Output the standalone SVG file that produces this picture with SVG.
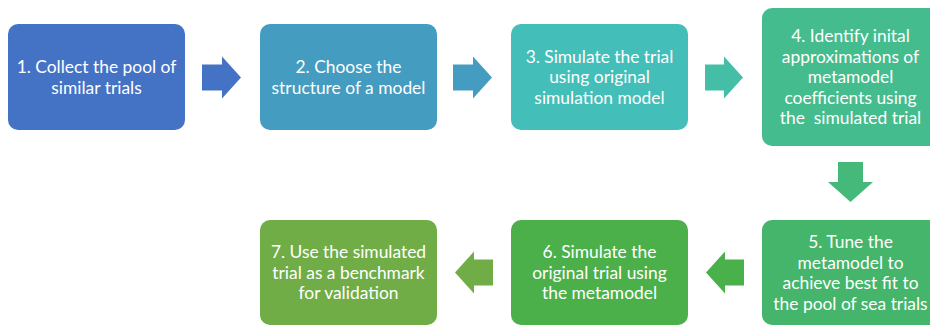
<svg xmlns="http://www.w3.org/2000/svg" width="930" height="326" viewBox="0 0 930 326">
<style>
.box{stroke:none}
.lbl{font-family:Lato,"Liberation Sans",Arial,sans-serif;font-size:17.4px;fill:#ffffff;text-anchor:middle;white-space:pre}
</style>
<rect width="930" height="326" fill="#ffffff"/>
<g id="connectors">
<polygon id="a1" points="202,64.5 222,64.5 222,56.5 241,77.5 222,98.5 222,90.5 202,90.5" fill="#4472C4"/>
<polygon id="a2" points="453,64.5 473,64.5 473,56.5 492,77.5 473,98.5 473,90.5 453,90.5" fill="#449DC1"/>
<polygon id="a3" points="705,64.5 724,64.5 724,56.5 743,77.5 724,98.5 724,90.5 705,90.5" fill="#45BEA8"/>
<polygon id="a4" points="838,162 863,162 863,182 873,182 850.5,202 828,182 838,182" fill="#45B97A"/>
<polygon id="a5" points="744,259.5 725,259.5 725,251.5 706,272.5 725,293.5 725,285.5 744,285.5" fill="#4AB04A"/>
<polygon id="a6" points="493,259.5 474,259.5 474,251.5 455,272.5 474,293.5 474,285.5 493,285.5" fill="#70AD47"/>
</g>
<g id="n1">
<rect class="box" x="8" y="24" width="177" height="106" rx="10" fill="#4472C4"/>
<text class="lbl" x="96.5" y="73">1. Collect the pool of</text>
<text class="lbl" x="96.5" y="93.5">similar trials</text>
</g>
<g id="n2">
<rect class="box" x="260" y="24" width="177" height="106" rx="10" fill="#449CC1"/>
<text class="lbl" x="348.5" y="73">2. Choose the</text>
<text class="lbl" x="348.5" y="93.5">structure of a model</text>
</g>
<g id="n3">
<rect class="box" x="511" y="24" width="177" height="106" rx="10" fill="#44BEB8"/>
<text class="lbl" x="599.5" y="62.5">3. Simulate the trial</text>
<text class="lbl" x="599.5" y="83">using original</text>
<text class="lbl" x="599.5" y="103.5">simulation model</text>
</g>
<g id="n4">
<rect class="box" x="762" y="8" width="177" height="138" rx="10" fill="#45BC8D"/>
<text class="lbl" x="850.5" y="42">4. Identify inital</text>
<text class="lbl" x="850.5" y="62.5">approximations of</text>
<text class="lbl" x="850.5" y="83">metamodel</text>
<text class="lbl" x="850.5" y="103.5">coefficients using</text>
<text class="lbl" x="850.5" y="124">the  simulated trial</text>
</g>
<g id="n5">
<rect class="box" x="762" y="220" width="177" height="105" rx="10" fill="#44B56A"/>
<text class="lbl" x="850.5" y="248">5. Tune the</text>
<text class="lbl" x="850.5" y="268.5">metamodel to</text>
<text class="lbl" x="850.5" y="289">achieve best fit to</text>
<text class="lbl" x="850.5" y="309.5">the pool of sea trials</text>
</g>
<g id="n6">
<rect class="box" x="511" y="220" width="177" height="105" rx="10" fill="#4BB04A"/>
<text class="lbl" x="599.5" y="258">6. Simulate the</text>
<text class="lbl" x="599.5" y="278.5">original trial using</text>
<text class="lbl" x="599.5" y="299">the metamodel</text>
</g>
<g id="n7">
<rect class="box" x="260" y="220" width="177" height="105" rx="10" fill="#70AD47"/>
<text class="lbl" x="348.5" y="258">7. Use the simulated</text>
<text class="lbl" x="348.5" y="278.5">trial as a benchmark</text>
<text class="lbl" x="348.5" y="299">for validation</text>
</g>
</svg>
